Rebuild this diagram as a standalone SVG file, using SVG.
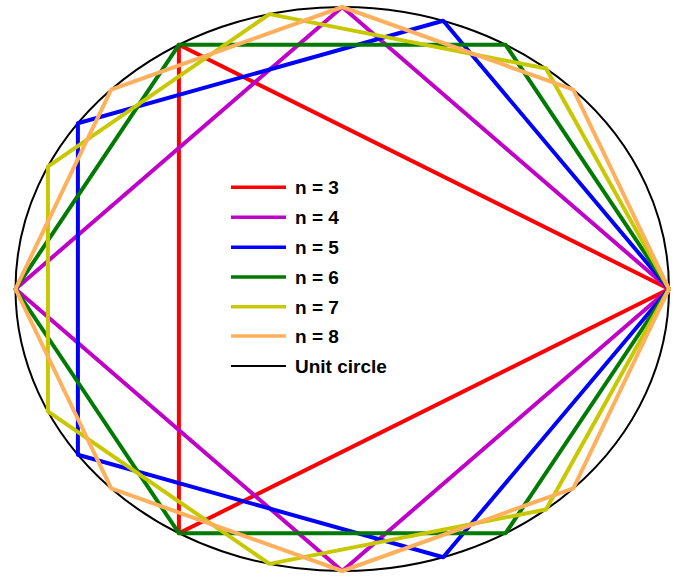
<svg xmlns="http://www.w3.org/2000/svg" width="680" height="577" viewBox="0 0 680 577">
<style>
.p{fill:none;stroke-width:4;stroke-linejoin:round;stroke-linecap:round}
.l{stroke-width:3.5}
.t{font-family:"Liberation Sans",Arial,sans-serif;font-weight:bold;font-size:19px;fill:#000}
.c3{stroke:#ff0000}.c4{stroke:#c000c8}.c5{stroke:#0000ff}.c6{stroke:#007a00}.c7{stroke:#c8c800}.c8{stroke:#ffb05c}
</style>
<rect width="680" height="577" fill="#fff"/>
<g id="circle"><ellipse cx="342.25" cy="289" rx="326.75" ry="282" fill="none" stroke="#000" stroke-width="2"/></g>
<g id="polygons">
<polygon id="n3" class="p c3" points="669,289 178.9,44.8 178.9,533.2"/>
<polygon id="n4" class="p c4" points="669,289 342.25,7 15.5,289 342.25,571"/>
<polygon id="n5" class="p c5" points="669,289 443.2,20.8 77.9,123.2 77.9,454.8 443.2,557.2"/>
<polygon id="n6" class="p c6" points="669,289 505.6,44.8 178.9,44.8 15.5,289 178.9,533.2 505.6,533.2"/>
<polygon id="n7" class="p c7" points="669,289 546,68.5 269.5,14.1 47.9,166.6 47.9,411.4 269.5,563.9 546,509.5"/>
<polygon id="n8" class="p c8" points="669,289 573.3,89.6 342.25,7 111.2,89.6 15.5,289 111.2,488.4 342.25,571 573.3,488.4"/>
</g>
<g id="legend">
<line class="l c3" x1="231" y1="187.3" x2="286" y2="187.3"/><text class="t" x="295" y="194">n = 3</text>
<line class="l c4" x1="231" y1="217.3" x2="286" y2="217.3"/><text class="t" x="295" y="224">n = 4</text>
<line class="l c5" x1="231" y1="247.3" x2="286" y2="247.3"/><text class="t" x="295" y="254">n = 5</text>
<line class="l c6" x1="231" y1="277" x2="286" y2="277"/><text class="t" x="295" y="284">n = 6</text>
<line class="l c7" x1="231" y1="306.7" x2="286" y2="306.7"/><text class="t" x="295" y="313.5">n = 7</text>
<line class="l c8" x1="231" y1="336" x2="286" y2="336"/><text class="t" x="295" y="343">n = 8</text>
<line x1="231" y1="366" x2="286" y2="366" stroke="#000" stroke-width="2"/><text class="t" x="295" y="373">Unit circle</text>
</g>
</svg>
